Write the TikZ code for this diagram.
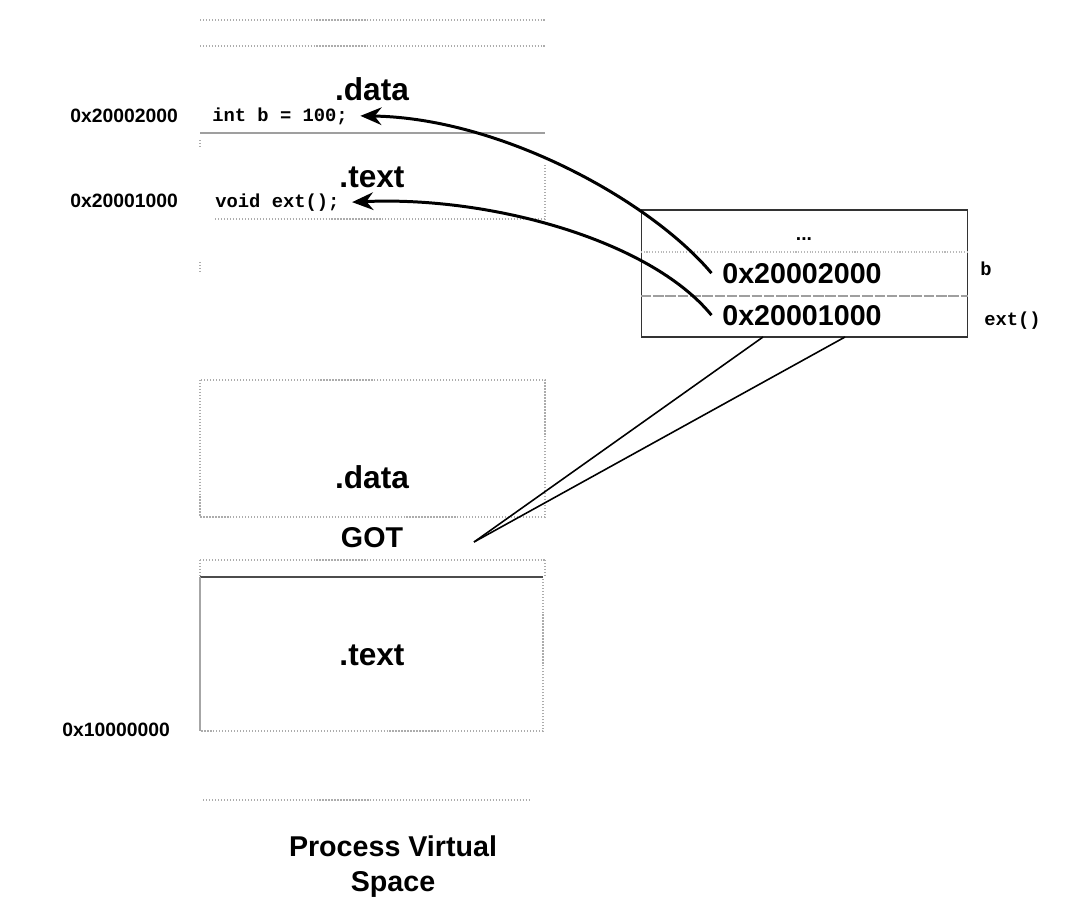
\documentclass[tikz,border=0pt]{standalone}
\usepackage{fontspec}
\setmainfont{Liberation Sans}
\newfontfamily\codefont{Liberation Mono}
\usetikzlibrary{arrows.meta}
\begin{document}
\begin{tikzpicture}[x=0.02cm,y=-0.02cm,
  sec/.style={font=\bfseries\fontsize{18}{20}\selectfont, inner sep=0, anchor=base},
  big/.style={font=\bfseries\fontsize{16.3}{18}\selectfont, inner sep=0, anchor=base},
  laddr/.style={font=\bfseries\fontsize{11}{13}\selectfont, inner sep=0, anchor=base west},
  code/.style={font=\codefont\bfseries\fontsize{10.7}{12}\selectfont, inner sep=0, anchor=base west},
  dots/.style={draw=gray!65, densely dotted, line width=0.7pt},
  faint/.style={draw=gray!75, line width=0.7pt},
  membox/.style={draw=black!80, line width=0.8pt, minimum width=6.52cm, minimum height=2.54cm, inner sep=0},
  ptr/.style={-{Stealth[length=12pt,width=10pt]}, line width=1.7pt},
  gotline/.style={line width=0.9pt}
]
\useasboundingbox (0,0) rectangle (1070,910);

% ---- upper (shared library) region ----
\draw[dots] (200,20) -- (545,20);
\draw[dots] (200,46) -- (545,46);
\node[sec] (datatop) at (372,100) {.data};
\node[laddr] (adrb) at (70,122) {0x20002000};
\node[code] (codeb) at (212,121) {int b = 100;};
\draw[faint] (200,133) -- (545,133);
\draw[dots] (200,140) -- (200,147);
\node[sec] (texttop) at (372,187) {.text};
\node[laddr] (adrext) at (70,207) {0x20001000};
\node[code] (codeext) at (215,207) {void ext();};
\draw[dots] (215,219) -- (545,219);
\draw[dots] (545,165) -- (545,219);
\draw[dots] (200,262) -- (200,272);

% ---- memory box (GOT contents) ----
\node[membox] (mem) at (804.5,273.5) {};
\node[font=\bfseries\fontsize{11}{12}\selectfont, inner sep=0, anchor=base] (dots3) at (804,240) {...};
\draw[draw=gray!55, densely dotted, line width=0.6pt] (mem.west |- 0,252) -- (mem.east |- 0,252);
\node[big, anchor=base west] (slotb) at (722,283) {0x20002000};
\draw[faint, dashed, dash pattern=on 6pt off 1pt] (mem.west |- 0,296) -- (mem.east |- 0,296);
\node[big, anchor=base west] (slotext) at (722,325) {0x20001000};
\node[code] (symb) at (980,275) {b};
\node[code] (symext) at (984,325) {ext()};

% ---- arrows from GOT entries to targets ----
\draw[ptr] ([xshift=-6pt]slotb.west) .. controls (650,200) and (500,118) .. ([xshift=7pt]codeb.east);
\draw[ptr] ([xshift=-6pt]slotext.west) .. controls (650,240) and (490,196) .. ([xshift=7pt]codeext.east);

% ---- lower (executable) region ----
\draw[dots] (200,380) rectangle (545,517);
\node[sec] (datalow) at (372,488) {.data};
\node[big] (got) at (372,547) {GOT};
\draw[dots] (200,560) -- (545,560);
\draw[dots] (200,560) -- (200,577);
\draw[dots] (545,560) -- (545,577);
\draw[dots] (200,577) rectangle (543,731);
\draw[draw=black!70, line width=0.8pt] (200,577) -- (543,577);
\draw[draw=gray!70, line width=0.6pt] (200,577) -- (200,731);
\node[sec] (textlow) at (372,665) {.text};
\node[laddr] (adrbase) at (62,736) {0x10000000};
\draw[dots] (203,800) -- (530,800);

% ---- GOT pointer lines ----
\coordinate (gotp) at (474,542);
\coordinate (g1) at (763,337);
\coordinate (g2) at (845,337);
\draw[gotline] (g1) -- (gotp);
\draw[gotline] (g2) -- (gotp);

% ---- caption ----
\node[big, align=center, anchor=north] (caption) at (393,835) {Process Virtual\\[2pt]Space};
\end{tikzpicture}
\end{document}
